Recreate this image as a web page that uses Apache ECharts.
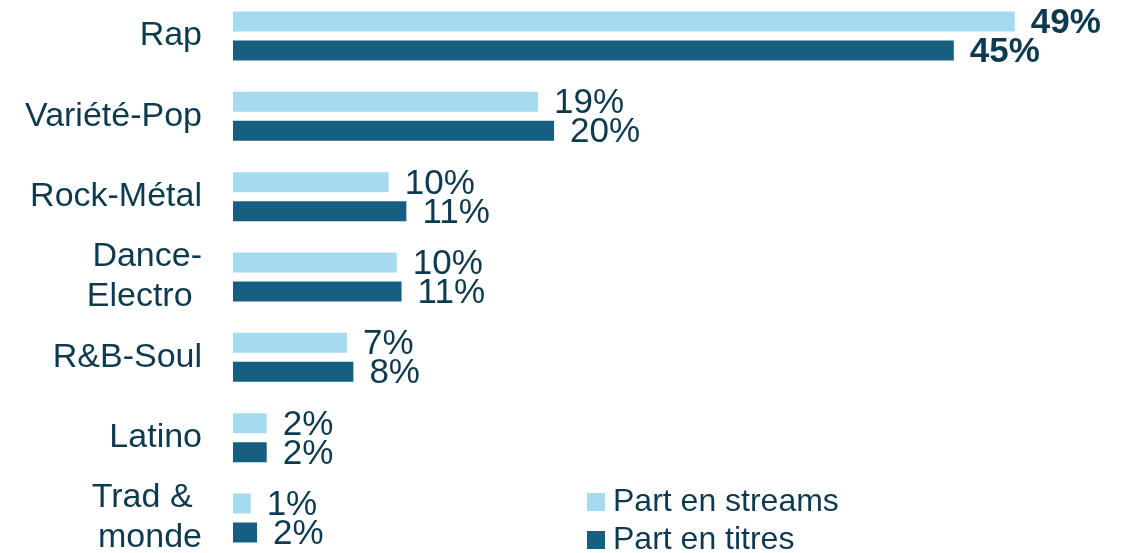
<!DOCTYPE html>
<html><head><meta charset="utf-8">
<script src="https://cdn.jsdelivr.net/npm/echarts@6/dist/echarts.min.js"></script>
<style>html,body{margin:0;padding:0;background:#fff}#c{width:1132px;height:553px}</style>
</head><body><div id="c"></div>
<script>
const categories = ['Rap', 'Variété-Pop', 'Rock-Métal', 'Dance-\nElectro ', 'R&B-Soul', 'Latino', 'Trad & \nmonde'];
const seriesNames = ['Part en streams', 'Part en titres'];
const streams = [48.7, 19.0, 9.7, 10.2, 7.1, 2.1, 1.1];
const titres = [44.9, 20.0, 10.8, 10.5, 7.5, 2.1, 1.5];
const streamsLabels = ['49%', '19%', '10%', '10%', '7%', '2%', '1%'];
const titresLabels = ['45%', '20%', '11%', '11%', '8%', '2%', '2%'];

const FONT = 'Liberation Sans';
const TXT = '#0e3a4f';
function mk(vals, labels) {
  return vals.map((v, i) => ({
    value: v,
    label: { formatter: labels[i], fontWeight: i === 0 ? 'bold' : 'normal' }
  }));
}
const chart = echarts.init(document.getElementById('c'), null, { renderer: 'canvas' });
chart.setOption({
  animation: false,
  textStyle: { fontFamily: FONT },
  grid: { left: 233, right: 0, top: 36, bottom: 35, containLabel: false, outerBoundsMode: 'none' },
  xAxis: { type: 'value', min: 0, max: 56, show: false },
  yAxis: {
    type: 'category', data: categories, inverse: true, boundaryGap: false,
    axisLine: { show: false }, axisTick: { show: false }, splitLine: { show: false },
    axisLabel: { color: TXT, fontSize: 34, fontFamily: FONT, margin: 31, lineHeight: 40, align: 'right' }
  },
  legend: {
    orient: 'vertical', left: 582, top: 481, height: 90, itemWidth: 18, itemHeight: 18, itemGap: 6,
    icon: 'rect', data: seriesNames,
    textStyle: { color: TXT, fontSize: 32, fontFamily: FONT, padding: [0, 0, 0, 3] }
  },
  series: [
    { name: seriesNames[0], type: 'bar', data: mk(streams, streamsLabels), barWidth: 20, barGap: '45%',
      itemStyle: { color: '#a6daf1' },
      label: { show: true, position: 'right', distance: 16, offset: [0, 2], color: TXT, fontSize: 35, fontFamily: FONT } },
    { name: seriesNames[1], type: 'bar', data: mk(titres, titresLabels), barWidth: 20,
      itemStyle: { color: '#175f80' },
      label: { show: true, position: 'right', distance: 16, offset: [0, 2], color: TXT, fontSize: 35, fontFamily: FONT } }
  ]
});
</script></body></html>
